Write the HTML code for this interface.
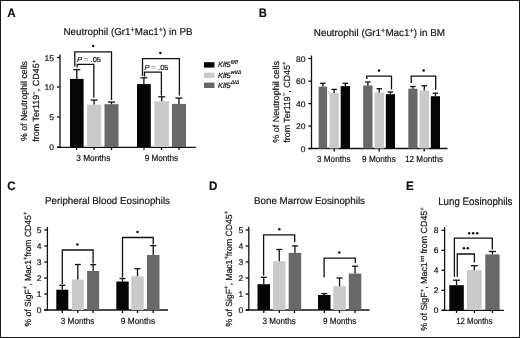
<!DOCTYPE html>
<html><head><meta charset="utf-8"><style>
html,body{margin:0;padding:0;background:#fff;}
body{width:520px;height:338px;overflow:hidden;}
svg{display:block;font-family:"Liberation Sans", sans-serif;text-rendering:geometricPrecision;}
text{fill:#111;stroke:#111;stroke-width:0.18px;}
.g{opacity:0.999;}
</style></head><body>
<svg width="520" height="338" viewBox="0 0 520 338">
<rect x="0" y="0" width="520" height="338" fill="#fff"/>
<g class="g">
<text x="7.3" y="16.9" font-size="12.3" text-anchor="start" font-weight="bold" font-style="normal" textLength="8.38" lengthAdjust="spacingAndGlyphs">A</text>
<text x="63.5" y="34.8" font-size="10" text-anchor="start" font-weight="normal" font-style="normal" textLength="129" lengthAdjust="spacingAndGlyphs">Neutrophil (Gr1<tspan font-size="7.5" dy="-3.00">+</tspan><tspan dy="3.00">&#8203;</tspan>Mac1<tspan font-size="7.5" dy="-3.00">+</tspan><tspan dy="3.00">&#8203;</tspan>) in PB</text>
<line x1="60" y1="54.6" x2="60" y2="147.6" stroke="#111" stroke-width="1.3"/>
<line x1="57" y1="147.3" x2="195.8" y2="147.3" stroke="#111" stroke-width="1.3"/>
<line x1="57" y1="57.5" x2="60" y2="57.5" stroke="#111" stroke-width="1.3"/>
<text x="54" y="60.5" font-size="8.2" text-anchor="end" font-weight="normal" font-style="normal" textLength="9.48" lengthAdjust="spacingAndGlyphs">15</text>
<line x1="57" y1="87" x2="60" y2="87" stroke="#111" stroke-width="1.3"/>
<text x="54" y="90.0" font-size="8.2" text-anchor="end" font-weight="normal" font-style="normal" textLength="9.48" lengthAdjust="spacingAndGlyphs">10</text>
<line x1="57" y1="117" x2="60" y2="117" stroke="#111" stroke-width="1.3"/>
<text x="54" y="120.0" font-size="8.2" text-anchor="end" font-weight="normal" font-style="normal" textLength="4.74" lengthAdjust="spacingAndGlyphs">5</text>
<line x1="57" y1="147" x2="60" y2="147" stroke="#111" stroke-width="1.3"/>
<text x="54" y="150.0" font-size="8.2" text-anchor="end" font-weight="normal" font-style="normal" textLength="4.74" lengthAdjust="spacingAndGlyphs">0</text>
<rect x="70" y="78.9" width="13.6" height="68.1" fill="#050505"/>
<line x1="76.8" y1="78.9" x2="76.8" y2="69.6" stroke="#111" stroke-width="1.3"/>
<line x1="73.3" y1="69.6" x2="80.3" y2="69.6" stroke="#111" stroke-width="1.3"/>
<rect x="87" y="104.6" width="14.2" height="42.4" fill="#cacaca"/>
<line x1="94.1" y1="104.6" x2="94.1" y2="100.1" stroke="#111" stroke-width="1.3"/>
<line x1="90.6" y1="100.1" x2="97.6" y2="100.1" stroke="#111" stroke-width="1.3"/>
<rect x="104.5" y="104.2" width="14.0" height="42.8" fill="#686868"/>
<line x1="111.5" y1="104.2" x2="111.5" y2="102.1" stroke="#111" stroke-width="1.3"/>
<line x1="108.0" y1="102.1" x2="115.0" y2="102.1" stroke="#111" stroke-width="1.3"/>
<rect x="137" y="84.1" width="13.8" height="62.9" fill="#050505"/>
<line x1="143.9" y1="84.1" x2="143.9" y2="77.8" stroke="#111" stroke-width="1.3"/>
<line x1="140.4" y1="77.8" x2="147.4" y2="77.8" stroke="#111" stroke-width="1.3"/>
<rect x="154.4" y="101.2" width="14.6" height="45.8" fill="#cacaca"/>
<line x1="161.7" y1="101.2" x2="161.7" y2="96.8" stroke="#111" stroke-width="1.3"/>
<line x1="158.2" y1="96.8" x2="165.2" y2="96.8" stroke="#111" stroke-width="1.3"/>
<rect x="171.9" y="103.9" width="14.1" height="43.1" fill="#686868"/>
<line x1="178.95" y1="103.9" x2="178.95" y2="98.1" stroke="#111" stroke-width="1.3"/>
<line x1="175.45" y1="98.1" x2="182.45" y2="98.1" stroke="#111" stroke-width="1.3"/>
<line x1="76.5" y1="147" x2="76.5" y2="150" stroke="#111" stroke-width="1.3"/>
<line x1="94" y1="147" x2="94" y2="150" stroke="#111" stroke-width="1.3"/>
<line x1="111.5" y1="147" x2="111.5" y2="150" stroke="#111" stroke-width="1.3"/>
<line x1="144" y1="147" x2="144" y2="150" stroke="#111" stroke-width="1.3"/>
<line x1="161.5" y1="147" x2="161.5" y2="150" stroke="#111" stroke-width="1.3"/>
<line x1="179" y1="147" x2="179" y2="150" stroke="#111" stroke-width="1.3"/>
<text x="93.3" y="160.5" font-size="8.8" text-anchor="middle" font-weight="normal" font-style="normal" textLength="34" lengthAdjust="spacingAndGlyphs">3 Months</text>
<text x="161.4" y="160.6" font-size="8.8" text-anchor="middle" font-weight="normal" font-style="normal" textLength="33.5" lengthAdjust="spacingAndGlyphs">9 Months</text>
<polyline points="74.8,66.5 74.8,51.9 111.5,51.9 111.5,100" fill="none" stroke="#111" stroke-width="1.3"/>
<polyline points="77.2,67.5 77.2,64.3 93.8,64.3 93.8,97.6" fill="none" stroke="#111" stroke-width="1.3"/>
<circle cx="93.20" cy="46" r="1.25" fill="#111"/>
<text x="77" y="62" font-size="7.3" text-anchor="start" font-weight="normal" font-style="normal" textLength="24" lengthAdjust="spacingAndGlyphs"><tspan font-style="italic">P</tspan> <tspan fill="#8a8a8a" stroke="#8a8a8a">=</tspan> .05</text>
<polyline points="142.5,76 142.5,58.6 179.4,58.6 179.4,95.5" fill="none" stroke="#111" stroke-width="1.3"/>
<polyline points="144.5,76.5 144.5,72.2 161.4,72.2 161.4,95.5" fill="none" stroke="#111" stroke-width="1.3"/>
<circle cx="160.40" cy="53" r="1.25" fill="#111"/>
<text x="144.5" y="70.2" font-size="7.3" text-anchor="start" font-weight="normal" font-style="normal" textLength="24" lengthAdjust="spacingAndGlyphs"><tspan font-style="italic">P</tspan> <tspan fill="#8a8a8a" stroke="#8a8a8a">=</tspan> .05</text>
<text x="27" y="141" font-size="8.9" text-anchor="start" font-weight="normal" font-style="normal" textLength="80" lengthAdjust="spacingAndGlyphs" transform="rotate(-90 27 141)">% of Neutrophil cells</text>
<text x="39" y="141.7" font-size="8.9" text-anchor="start" font-weight="normal" font-style="normal" textLength="82" lengthAdjust="spacingAndGlyphs" transform="rotate(-90 39 141.7)">from Ter119<tspan font-size="6" dy="-3.30">&#8722;</tspan><tspan dy="3.30">&#8203;</tspan>, CD45<tspan font-size="6" dy="-3.30">+</tspan><tspan dy="3.30">&#8203;</tspan></text>
<rect x="204" y="62.2" width="10.5" height="5.4" fill="#050505"/>
<text x="218" y="67.2" font-size="7.4" text-anchor="start" font-weight="normal" font-style="normal"><tspan font-style="italic">Klf5</tspan><tspan font-size="5.4" dy="-3.4" font-style="italic">fl/fl</tspan></text>
<rect x="204" y="72.7" width="10.5" height="5.4" fill="#cacaca"/>
<text x="218" y="77.7" font-size="7.4" text-anchor="start" font-weight="normal" font-style="normal"><tspan font-style="italic">Klf5</tspan><tspan font-size="5.4" dy="-3.4" font-style="italic">wt/&#916;</tspan></text>
<rect x="204" y="82.6" width="10.5" height="5.4" fill="#686868"/>
<text x="218" y="87.6" font-size="7.4" text-anchor="start" font-weight="normal" font-style="normal"><tspan font-style="italic">Klf5</tspan><tspan font-size="5.4" dy="-3.4" font-style="italic">&#916;/&#916;</tspan></text>
<text x="258.7" y="16.9" font-size="12.3" text-anchor="start" font-weight="bold" font-style="normal" textLength="8.1" lengthAdjust="spacingAndGlyphs">B</text>
<text x="313.8" y="36.3" font-size="10" text-anchor="start" font-weight="normal" font-style="normal" textLength="131.2" lengthAdjust="spacingAndGlyphs">Neutrophil (Gr1<tspan font-size="7.5" dy="-3.00">+</tspan><tspan dy="3.00">&#8203;</tspan>Mac1<tspan font-size="7.5" dy="-3.00">+</tspan><tspan dy="3.00">&#8203;</tspan>) in BM</text>
<line x1="311.5" y1="55.5" x2="311.5" y2="149.1" stroke="#111" stroke-width="1.3"/>
<line x1="308.5" y1="148.5" x2="447.5" y2="148.5" stroke="#111" stroke-width="1.3"/>
<line x1="308.3" y1="58.5" x2="311.5" y2="58.5" stroke="#111" stroke-width="1.3"/>
<text x="305.5" y="61.5" font-size="8.2" text-anchor="end" font-weight="normal" font-style="normal" textLength="9.48" lengthAdjust="spacingAndGlyphs">80</text>
<line x1="308.3" y1="81.2" x2="311.5" y2="81.2" stroke="#111" stroke-width="1.3"/>
<text x="305.5" y="84.2" font-size="8.2" text-anchor="end" font-weight="normal" font-style="normal" textLength="9.48" lengthAdjust="spacingAndGlyphs">60</text>
<line x1="308.3" y1="103.6" x2="311.5" y2="103.6" stroke="#111" stroke-width="1.3"/>
<text x="305.5" y="106.6" font-size="8.2" text-anchor="end" font-weight="normal" font-style="normal" textLength="9.48" lengthAdjust="spacingAndGlyphs">40</text>
<line x1="308.3" y1="126" x2="311.5" y2="126" stroke="#111" stroke-width="1.3"/>
<text x="305.5" y="129.0" font-size="8.2" text-anchor="end" font-weight="normal" font-style="normal" textLength="9.48" lengthAdjust="spacingAndGlyphs">20</text>
<line x1="308.3" y1="148.5" x2="311.5" y2="148.5" stroke="#111" stroke-width="1.3"/>
<text x="305.5" y="151.5" font-size="8.2" text-anchor="end" font-weight="normal" font-style="normal" textLength="4.74" lengthAdjust="spacingAndGlyphs">0</text>
<rect x="318.6" y="86.6" width="8.5" height="61.9" fill="#686868"/>
<line x1="322.85" y1="86.6" x2="322.85" y2="83.3" stroke="#111" stroke-width="1.3"/>
<line x1="320.1" y1="83.3" x2="325.6" y2="83.3" stroke="#111" stroke-width="1.3"/>
<rect x="329.5" y="92.9" width="9.3" height="55.6" fill="#cacaca"/>
<line x1="334.15" y1="92.9" x2="334.15" y2="89.4" stroke="#111" stroke-width="1.3"/>
<line x1="331.4" y1="89.4" x2="336.9" y2="89.4" stroke="#111" stroke-width="1.3"/>
<rect x="340.7" y="86.1" width="9.3" height="62.4" fill="#050505"/>
<line x1="345.35" y1="86.1" x2="345.35" y2="83.3" stroke="#111" stroke-width="1.3"/>
<line x1="342.6" y1="83.3" x2="348.1" y2="83.3" stroke="#111" stroke-width="1.3"/>
<rect x="363.2" y="85.5" width="9.3" height="63.0" fill="#686868"/>
<line x1="367.85" y1="85.5" x2="367.85" y2="82" stroke="#111" stroke-width="1.3"/>
<line x1="365.1" y1="82" x2="370.6" y2="82" stroke="#111" stroke-width="1.3"/>
<rect x="374.5" y="92.5" width="9.5" height="56.0" fill="#cacaca"/>
<line x1="379.25" y1="92.5" x2="379.25" y2="88.7" stroke="#111" stroke-width="1.3"/>
<line x1="376.5" y1="88.7" x2="382.0" y2="88.7" stroke="#111" stroke-width="1.3"/>
<rect x="385.8" y="94.2" width="9.2" height="54.3" fill="#050505"/>
<line x1="390.4" y1="94.2" x2="390.4" y2="92" stroke="#111" stroke-width="1.3"/>
<line x1="387.65" y1="92" x2="393.15" y2="92" stroke="#111" stroke-width="1.3"/>
<rect x="408.3" y="88.7" width="9.2" height="59.8" fill="#686868"/>
<line x1="412.9" y1="88.7" x2="412.9" y2="86.5" stroke="#111" stroke-width="1.3"/>
<line x1="410.15" y1="86.5" x2="415.65" y2="86.5" stroke="#111" stroke-width="1.3"/>
<rect x="419.5" y="90.5" width="9.5" height="58.0" fill="#cacaca"/>
<line x1="424.25" y1="90.5" x2="424.25" y2="85.7" stroke="#111" stroke-width="1.3"/>
<line x1="421.5" y1="85.7" x2="427.0" y2="85.7" stroke="#111" stroke-width="1.3"/>
<rect x="430.8" y="96.2" width="9.2" height="52.3" fill="#050505"/>
<line x1="435.4" y1="96.2" x2="435.4" y2="93.2" stroke="#111" stroke-width="1.3"/>
<line x1="432.65" y1="93.2" x2="438.15" y2="93.2" stroke="#111" stroke-width="1.3"/>
<line x1="334.2" y1="148.5" x2="334.2" y2="151.5" stroke="#111" stroke-width="1.3"/>
<line x1="379.2" y1="148.5" x2="379.2" y2="151.5" stroke="#111" stroke-width="1.3"/>
<line x1="424.2" y1="148.5" x2="424.2" y2="151.5" stroke="#111" stroke-width="1.3"/>
<text x="333.8" y="162.2" font-size="8.8" text-anchor="middle" font-weight="normal" font-style="normal" textLength="33.5" lengthAdjust="spacingAndGlyphs">3 Months</text>
<text x="378.9" y="162.2" font-size="8.8" text-anchor="middle" font-weight="normal" font-style="normal" textLength="33.7" lengthAdjust="spacingAndGlyphs">9 Months</text>
<text x="424.1" y="162.2" font-size="8.8" text-anchor="middle" font-weight="normal" font-style="normal" textLength="38.2" lengthAdjust="spacingAndGlyphs">12 Months</text>
<polyline points="366.8,79 366.8,76.1 391.5,76.1 391.5,89.5" fill="none" stroke="#111" stroke-width="1.3"/>
<circle cx="379.00" cy="70.4" r="1.25" fill="#111"/>
<polyline points="411.2,83 411.2,76.1 435.7,76.1 435.7,89.7" fill="none" stroke="#111" stroke-width="1.3"/>
<circle cx="423.60" cy="70.5" r="1.25" fill="#111"/>
<text x="278.7" y="142.7" font-size="8.9" text-anchor="start" font-weight="normal" font-style="normal" textLength="81.8" lengthAdjust="spacingAndGlyphs" transform="rotate(-90 278.7 142.7)">% of Neutrophil cells</text>
<text x="289.6" y="142.7" font-size="8.9" text-anchor="start" font-weight="normal" font-style="normal" textLength="81.1" lengthAdjust="spacingAndGlyphs" transform="rotate(-90 289.6 142.7)">from Ter119<tspan font-size="6" dy="-3.30">&#8722;</tspan><tspan dy="3.30">&#8203;</tspan>, CD45<tspan font-size="6" dy="-3.30">+</tspan><tspan dy="3.30">&#8203;</tspan></text>
<text x="7.3" y="190" font-size="12.3" text-anchor="start" font-weight="bold" font-style="normal" textLength="8.38" lengthAdjust="spacingAndGlyphs">C</text>
<text x="45" y="203.8" font-size="10" text-anchor="start" font-weight="normal" font-style="normal" textLength="125" lengthAdjust="spacingAndGlyphs">Peripheral Blood Eosinophils</text>
<line x1="47.4" y1="226.8" x2="47.4" y2="310.6" stroke="#111" stroke-width="1.3"/>
<line x1="44" y1="310" x2="168" y2="310" stroke="#111" stroke-width="1.3"/>
<line x1="44.2" y1="310" x2="47.4" y2="310" stroke="#111" stroke-width="1.3"/>
<text x="41.4" y="313.0" font-size="8.2" text-anchor="end" font-weight="normal" font-style="normal" textLength="4.74" lengthAdjust="spacingAndGlyphs">0</text>
<line x1="44.2" y1="294" x2="47.4" y2="294" stroke="#111" stroke-width="1.3"/>
<text x="41.4" y="297.0" font-size="8.2" text-anchor="end" font-weight="normal" font-style="normal" textLength="4.74" lengthAdjust="spacingAndGlyphs">1</text>
<line x1="44.2" y1="278" x2="47.4" y2="278" stroke="#111" stroke-width="1.3"/>
<text x="41.4" y="281.0" font-size="8.2" text-anchor="end" font-weight="normal" font-style="normal" textLength="4.74" lengthAdjust="spacingAndGlyphs">2</text>
<line x1="44.2" y1="262" x2="47.4" y2="262" stroke="#111" stroke-width="1.3"/>
<text x="41.4" y="265.0" font-size="8.2" text-anchor="end" font-weight="normal" font-style="normal" textLength="4.74" lengthAdjust="spacingAndGlyphs">3</text>
<line x1="44.2" y1="246" x2="47.4" y2="246" stroke="#111" stroke-width="1.3"/>
<text x="41.4" y="249.0" font-size="8.2" text-anchor="end" font-weight="normal" font-style="normal" textLength="4.74" lengthAdjust="spacingAndGlyphs">4</text>
<line x1="44.2" y1="230" x2="47.4" y2="230" stroke="#111" stroke-width="1.3"/>
<text x="41.4" y="233.0" font-size="8.2" text-anchor="end" font-weight="normal" font-style="normal" textLength="4.74" lengthAdjust="spacingAndGlyphs">5</text>
<rect x="56.3" y="289.7" width="12.0" height="20.3" fill="#050505"/>
<line x1="62.3" y1="289.7" x2="62.3" y2="285.3" stroke="#111" stroke-width="1.3"/>
<line x1="59.3" y1="285.3" x2="65.3" y2="285.3" stroke="#111" stroke-width="1.3"/>
<rect x="71.8" y="279.5" width="12.0" height="30.5" fill="#cacaca"/>
<line x1="77.8" y1="279.5" x2="77.8" y2="264.5" stroke="#111" stroke-width="1.3"/>
<line x1="74.8" y1="264.5" x2="80.8" y2="264.5" stroke="#111" stroke-width="1.3"/>
<rect x="87.1" y="271" width="12.1" height="39" fill="#686868"/>
<line x1="93.15" y1="271" x2="93.15" y2="264.7" stroke="#111" stroke-width="1.3"/>
<line x1="90.15" y1="264.7" x2="96.15" y2="264.7" stroke="#111" stroke-width="1.3"/>
<rect x="116.3" y="281.5" width="12.4" height="28.5" fill="#050505"/>
<line x1="122.5" y1="281.5" x2="122.5" y2="278.5" stroke="#111" stroke-width="1.3"/>
<line x1="119.5" y1="278.5" x2="125.5" y2="278.5" stroke="#111" stroke-width="1.3"/>
<rect x="131.3" y="276.2" width="12.4" height="33.8" fill="#cacaca"/>
<line x1="137.5" y1="276.2" x2="137.5" y2="268.7" stroke="#111" stroke-width="1.3"/>
<line x1="134.5" y1="268.7" x2="140.5" y2="268.7" stroke="#111" stroke-width="1.3"/>
<rect x="147" y="255" width="12.5" height="55" fill="#686868"/>
<line x1="153.25" y1="255" x2="153.25" y2="245.7" stroke="#111" stroke-width="1.3"/>
<line x1="150.25" y1="245.7" x2="156.25" y2="245.7" stroke="#111" stroke-width="1.3"/>
<line x1="62.3" y1="310" x2="62.3" y2="313" stroke="#111" stroke-width="1.3"/>
<line x1="77.8" y1="310" x2="77.8" y2="313" stroke="#111" stroke-width="1.3"/>
<line x1="93.1" y1="310" x2="93.1" y2="313" stroke="#111" stroke-width="1.3"/>
<line x1="122.5" y1="310" x2="122.5" y2="313" stroke="#111" stroke-width="1.3"/>
<line x1="137.5" y1="310" x2="137.5" y2="313" stroke="#111" stroke-width="1.3"/>
<line x1="153.2" y1="310" x2="153.2" y2="313" stroke="#111" stroke-width="1.3"/>
<text x="77.6" y="324.3" font-size="8.8" text-anchor="middle" font-weight="normal" font-style="normal" textLength="33.7" lengthAdjust="spacingAndGlyphs">3 Months</text>
<text x="137.95" y="324.2" font-size="8.8" text-anchor="middle" font-weight="normal" font-style="normal" textLength="34.2" lengthAdjust="spacingAndGlyphs">9 Months</text>
<polyline points="62.3,284 62.3,250 93.1,250 93.1,263.5" fill="none" stroke="#111" stroke-width="1.3"/>
<circle cx="77.40" cy="244.6" r="1.25" fill="#111"/>
<polyline points="122.5,277.5 122.5,237.5 153.2,237.5 153.2,244.5" fill="none" stroke="#111" stroke-width="1.3"/>
<circle cx="137.50" cy="232" r="1.25" fill="#111"/>
<text x="30.7" y="326.5" font-size="8.9" text-anchor="start" font-weight="normal" font-style="normal" textLength="114.8" lengthAdjust="spacingAndGlyphs" transform="rotate(-90 30.7 326.5)">% of SigF<tspan font-size="6" dy="-3.30">+</tspan><tspan dy="3.30">&#8203;</tspan>, Mac1<tspan font-size="6" dy="-3.30">+</tspan><tspan dy="3.30">&#8203;</tspan>from CD45<tspan font-size="6" dy="-3.30">+</tspan><tspan dy="3.30">&#8203;</tspan></text>
<text x="209" y="190" font-size="12.3" text-anchor="start" font-weight="bold" font-style="normal" textLength="8.38" lengthAdjust="spacingAndGlyphs">D</text>
<text x="254" y="204" font-size="10" text-anchor="start" font-weight="normal" font-style="normal" textLength="111" lengthAdjust="spacingAndGlyphs">Bone Marrow Eosinophils</text>
<line x1="248.8" y1="226.8" x2="248.8" y2="310.6" stroke="#111" stroke-width="1.3"/>
<line x1="245.8" y1="310" x2="369.5" y2="310" stroke="#111" stroke-width="1.3"/>
<line x1="245.6" y1="310" x2="248.8" y2="310" stroke="#111" stroke-width="1.3"/>
<text x="243.3" y="313.0" font-size="8.2" text-anchor="end" font-weight="normal" font-style="normal" textLength="4.74" lengthAdjust="spacingAndGlyphs">0</text>
<line x1="245.6" y1="294" x2="248.8" y2="294" stroke="#111" stroke-width="1.3"/>
<text x="243.3" y="297.0" font-size="8.2" text-anchor="end" font-weight="normal" font-style="normal" textLength="4.74" lengthAdjust="spacingAndGlyphs">1</text>
<line x1="245.6" y1="278" x2="248.8" y2="278" stroke="#111" stroke-width="1.3"/>
<text x="243.3" y="281.0" font-size="8.2" text-anchor="end" font-weight="normal" font-style="normal" textLength="4.74" lengthAdjust="spacingAndGlyphs">2</text>
<line x1="245.6" y1="262" x2="248.8" y2="262" stroke="#111" stroke-width="1.3"/>
<text x="243.3" y="265.0" font-size="8.2" text-anchor="end" font-weight="normal" font-style="normal" textLength="4.74" lengthAdjust="spacingAndGlyphs">3</text>
<line x1="245.6" y1="246" x2="248.8" y2="246" stroke="#111" stroke-width="1.3"/>
<text x="243.3" y="249.0" font-size="8.2" text-anchor="end" font-weight="normal" font-style="normal" textLength="4.74" lengthAdjust="spacingAndGlyphs">4</text>
<line x1="245.6" y1="230" x2="248.8" y2="230" stroke="#111" stroke-width="1.3"/>
<text x="243.3" y="233.0" font-size="8.2" text-anchor="end" font-weight="normal" font-style="normal" textLength="4.74" lengthAdjust="spacingAndGlyphs">5</text>
<rect x="257.5" y="284.2" width="12.5" height="25.8" fill="#050505"/>
<line x1="263.75" y1="284.2" x2="263.75" y2="277.3" stroke="#111" stroke-width="1.3"/>
<line x1="260.75" y1="277.3" x2="266.75" y2="277.3" stroke="#111" stroke-width="1.3"/>
<rect x="273" y="261.2" width="12.5" height="48.8" fill="#cacaca"/>
<line x1="279.25" y1="261.2" x2="279.25" y2="249.5" stroke="#111" stroke-width="1.3"/>
<line x1="276.25" y1="249.5" x2="282.25" y2="249.5" stroke="#111" stroke-width="1.3"/>
<rect x="288.7" y="252.9" width="12.5" height="57.1" fill="#686868"/>
<line x1="294.95" y1="252.9" x2="294.95" y2="245.9" stroke="#111" stroke-width="1.3"/>
<line x1="291.95" y1="245.9" x2="297.95" y2="245.9" stroke="#111" stroke-width="1.3"/>
<rect x="318" y="295" width="12.5" height="15" fill="#050505"/>
<line x1="324.25" y1="295" x2="324.25" y2="293.6" stroke="#111" stroke-width="1.3"/>
<line x1="321.25" y1="293.6" x2="327.25" y2="293.6" stroke="#111" stroke-width="1.3"/>
<rect x="333.3" y="286.2" width="12.5" height="23.8" fill="#cacaca"/>
<line x1="339.55" y1="286.2" x2="339.55" y2="278" stroke="#111" stroke-width="1.3"/>
<line x1="336.55" y1="278" x2="342.55" y2="278" stroke="#111" stroke-width="1.3"/>
<rect x="348.8" y="273.6" width="12.5" height="36.4" fill="#686868"/>
<line x1="355.05" y1="273.6" x2="355.05" y2="266.2" stroke="#111" stroke-width="1.3"/>
<line x1="352.05" y1="266.2" x2="358.05" y2="266.2" stroke="#111" stroke-width="1.3"/>
<line x1="263.8" y1="310" x2="263.8" y2="313" stroke="#111" stroke-width="1.3"/>
<line x1="279.3" y1="310" x2="279.3" y2="313" stroke="#111" stroke-width="1.3"/>
<line x1="294.5" y1="310" x2="294.5" y2="313" stroke="#111" stroke-width="1.3"/>
<line x1="324.3" y1="310" x2="324.3" y2="313" stroke="#111" stroke-width="1.3"/>
<line x1="339.5" y1="310" x2="339.5" y2="313" stroke="#111" stroke-width="1.3"/>
<line x1="355" y1="310" x2="355" y2="313" stroke="#111" stroke-width="1.3"/>
<text x="279.1" y="324.3" font-size="8.8" text-anchor="middle" font-weight="normal" font-style="normal" textLength="33.3" lengthAdjust="spacingAndGlyphs">3 Months</text>
<text x="339.6" y="324.3" font-size="8.8" text-anchor="middle" font-weight="normal" font-style="normal" textLength="33.3" lengthAdjust="spacingAndGlyphs">9 Months</text>
<polyline points="263.6,275.5 263.6,234.9 294.7,234.9 294.7,242.3" fill="none" stroke="#111" stroke-width="1.3"/>
<circle cx="279.30" cy="229.3" r="1.25" fill="#111"/>
<polyline points="324.1,277.3 324.1,258.1 355.3,258.1 355.3,263" fill="none" stroke="#111" stroke-width="1.3"/>
<circle cx="339.30" cy="252.5" r="1.25" fill="#111"/>
<text x="231.7" y="326.5" font-size="8.9" text-anchor="start" font-weight="normal" font-style="normal" textLength="115.6" lengthAdjust="spacingAndGlyphs" transform="rotate(-90 231.7 326.5)">% of SigF<tspan font-size="6" dy="-3.30">+</tspan><tspan dy="3.30">&#8203;</tspan>, Mac1<tspan font-size="6" dy="-3.30">+</tspan><tspan dy="3.30">&#8203;</tspan>from CD45<tspan font-size="6" dy="-3.30">+</tspan><tspan dy="3.30">&#8203;</tspan></text>
<text x="406" y="190" font-size="12.3" text-anchor="start" font-weight="bold" font-style="normal" textLength="7.74" lengthAdjust="spacingAndGlyphs">E</text>
<text x="438.2" y="204.6" font-size="10.8" text-anchor="start" font-weight="normal" font-style="normal" textLength="74.3" lengthAdjust="spacingAndGlyphs">Lung Eosinophils</text>
<line x1="444.6" y1="227" x2="444.6" y2="310.6" stroke="#111" stroke-width="1.3"/>
<line x1="441.5" y1="310.3" x2="503.8" y2="310.3" stroke="#111" stroke-width="1.3"/>
<line x1="441.5" y1="310.3" x2="444.6" y2="310.3" stroke="#111" stroke-width="1.3"/>
<text x="438.6" y="313.3" font-size="8.2" text-anchor="end" font-weight="normal" font-style="normal" textLength="4.74" lengthAdjust="spacingAndGlyphs">0</text>
<line x1="441.5" y1="290.3" x2="444.6" y2="290.3" stroke="#111" stroke-width="1.3"/>
<text x="438.6" y="293.3" font-size="8.2" text-anchor="end" font-weight="normal" font-style="normal" textLength="4.74" lengthAdjust="spacingAndGlyphs">2</text>
<line x1="441.5" y1="270.3" x2="444.6" y2="270.3" stroke="#111" stroke-width="1.3"/>
<text x="438.6" y="273.3" font-size="8.2" text-anchor="end" font-weight="normal" font-style="normal" textLength="4.74" lengthAdjust="spacingAndGlyphs">4</text>
<line x1="441.5" y1="250.3" x2="444.6" y2="250.3" stroke="#111" stroke-width="1.3"/>
<text x="438.6" y="253.3" font-size="8.2" text-anchor="end" font-weight="normal" font-style="normal" textLength="4.74" lengthAdjust="spacingAndGlyphs">6</text>
<line x1="441.5" y1="230.3" x2="444.6" y2="230.3" stroke="#111" stroke-width="1.3"/>
<text x="438.6" y="233.3" font-size="8.2" text-anchor="end" font-weight="normal" font-style="normal" textLength="4.74" lengthAdjust="spacingAndGlyphs">8</text>
<rect x="449.3" y="285.2" width="14.5" height="24.8" fill="#050505"/>
<line x1="456.55" y1="285.2" x2="456.55" y2="280.2" stroke="#111" stroke-width="1.3"/>
<line x1="453.05" y1="280.2" x2="460.05" y2="280.2" stroke="#111" stroke-width="1.3"/>
<rect x="467" y="270.2" width="14.7" height="39.8" fill="#cacaca"/>
<line x1="474.35" y1="270.2" x2="474.35" y2="265.7" stroke="#111" stroke-width="1.3"/>
<line x1="470.85" y1="265.7" x2="477.85" y2="265.7" stroke="#111" stroke-width="1.3"/>
<rect x="485.3" y="254.4" width="14.3" height="55.6" fill="#686868"/>
<line x1="492.45000000000005" y1="254.4" x2="492.45000000000005" y2="251.5" stroke="#111" stroke-width="1.3"/>
<line x1="488.95000000000005" y1="251.5" x2="495.95000000000005" y2="251.5" stroke="#111" stroke-width="1.3"/>
<line x1="456.5" y1="310" x2="456.5" y2="313" stroke="#111" stroke-width="1.3"/>
<line x1="474.4" y1="310" x2="474.4" y2="313" stroke="#111" stroke-width="1.3"/>
<line x1="492.4" y1="310" x2="492.4" y2="313" stroke="#111" stroke-width="1.3"/>
<text x="474.4" y="324.3" font-size="8.8" text-anchor="middle" font-weight="normal" font-style="normal" textLength="36.3" lengthAdjust="spacingAndGlyphs">12 Months</text>
<polyline points="454.4,276.8 454.4,238.2 492.3,238.2 492.3,249.6" fill="none" stroke="#111" stroke-width="1.3"/>
<polyline points="457.3,276.8 457.3,254 474.4,254 474.4,262.6" fill="none" stroke="#111" stroke-width="1.3"/>
<circle cx="469.20" cy="233.2" r="1.25" fill="#111"/>
<circle cx="473.20" cy="233.2" r="1.25" fill="#111"/>
<circle cx="477.20" cy="233.2" r="1.25" fill="#111"/>
<circle cx="463.90" cy="248.3" r="1.25" fill="#111"/>
<circle cx="467.80" cy="248.3" r="1.25" fill="#111"/>
<text x="427.4" y="330.8" font-size="8.9" text-anchor="start" font-weight="normal" font-style="normal" textLength="123.6" lengthAdjust="spacingAndGlyphs" transform="rotate(-90 427.4 330.8)">% of SigF<tspan font-size="6" dy="-3.30">+</tspan><tspan dy="3.30">&#8203;</tspan>, Mac1<tspan font-size="5.5" dy="-3">Int</tspan><tspan dy="3"> </tspan>from CD45<tspan font-size="6" dy="-3.30">+</tspan><tspan dy="3.30">&#8203;</tspan></text>
</g>
<rect x="0.5" y="0.5" width="519" height="337" fill="none" stroke="#1a1a1a" stroke-width="1"/>
</svg>
</body></html>
